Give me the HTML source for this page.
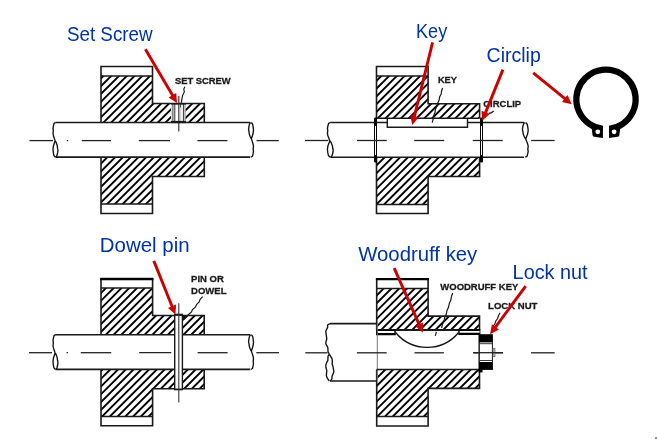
<!DOCTYPE html>
<html><head><meta charset="utf-8"><style>
html,body{margin:0;padding:0;background:#fff;width:657px;height:439px;overflow:hidden}
svg{display:block;will-change:transform}
text{font-family:"Liberation Sans",sans-serif}
</style></head><body>
<svg width="657" height="439" viewBox="0 0 657 439">
<defs><clipPath id="c1"><polygon points="101,76 152.5,76 152.5,103.5 204.3,103.5 204.3,122.5 101,122.5"/></clipPath><clipPath id="c2"><polygon points="101,157.3 204.3,157.3 204.3,176.5 152.5,176.5 152.5,204 101,204"/></clipPath><clipPath id="c3"><polygon points="376.5,76 428.1,76 428.1,103.8 479.6,103.8 479.6,118.2 376.5,118.2"/></clipPath><clipPath id="c4"><polygon points="376.5,157.3 479.6,157.3 479.6,176.5 428.1,176.5 428.1,204.5 376.5,204.5"/></clipPath><clipPath id="c5"><polygon points="101,288 152.6,288 152.6,315.5 204.2,315.5 204.2,334.7 101,334.7"/></clipPath><clipPath id="c6"><polygon points="101,369.4 204.2,369.4 204.2,388.7 152.6,388.7 152.6,416.5 101,416.5"/></clipPath><clipPath id="c7"><polygon points="376.7,288.5 428.1,288.5 428.1,316.1 479.5,316.1 479.5,330.0 376.7,330.0"/></clipPath><clipPath id="c8"><polygon points="376.7,369.5 479.5,369.5 479.5,388.4 428.1,388.4 428.1,416.5 376.7,416.5"/></clipPath></defs>
<rect width="657" height="439" fill="#fff"/>
<path clip-path="url(#c1)" d="M98.00,65.92L207.30,-43.38M98.00,73.68L207.30,-35.62M98.00,81.44L207.30,-27.86M98.00,89.20L207.30,-20.10M98.00,96.96L207.30,-12.34M98.00,104.72L207.30,-4.58M98.00,112.48L207.30,3.18M98.00,120.24L207.30,10.94M98.00,128.00L207.30,18.70M98.00,135.76L207.30,26.46M98.00,143.52L207.30,34.22M98.00,151.28L207.30,41.98M98.00,159.04L207.30,49.74M98.00,166.80L207.30,57.50M98.00,174.56L207.30,65.26M98.00,182.32L207.30,73.02M98.00,190.08L207.30,80.78M98.00,197.84L207.30,88.54M98.00,205.60L207.30,96.30M98.00,213.36L207.30,104.06M98.00,221.12L207.30,111.82M98.00,228.88L207.30,119.58M98.00,236.64L207.30,127.34" stroke="#000" stroke-width="1.9" fill="none"/>
<path clip-path="url(#c2)" d="M98.00,151.08L207.30,41.78M98.00,158.84L207.30,49.54M98.00,166.60L207.30,57.30M98.00,174.36L207.30,65.06M98.00,182.12L207.30,72.82M98.00,189.88L207.30,80.58M98.00,197.64L207.30,88.34M98.00,205.40L207.30,96.10M98.00,213.16L207.30,103.86M98.00,220.92L207.30,111.62M98.00,228.68L207.30,119.38M98.00,236.44L207.30,127.14M98.00,244.20L207.30,134.90M98.00,251.96L207.30,142.66M98.00,259.72L207.30,150.42M98.00,267.48L207.30,158.18M98.00,275.24L207.30,165.94M98.00,283.00L207.30,173.70M98.00,290.76L207.30,181.46M98.00,298.52L207.30,189.22M98.00,306.28L207.30,196.98M98.00,314.04L207.30,204.74M98.00,321.80L207.30,212.50" stroke="#000" stroke-width="1.9" fill="none"/>
<path d="M101,122.5V66.5H152.5V103.5H204.3V122.5" stroke="#1a1a1a" stroke-width="1.6" fill="none" />
<path d="M101,157.3V213.5H152.5V176.5H204.3V157.3" stroke="#1a1a1a" stroke-width="1.6" fill="none" />
<line x1="101" y1="76" x2="152.5" y2="76" stroke="#1a1a1a" stroke-width="1.6"/>
<line x1="101" y1="204" x2="152.5" y2="204" stroke="#1a1a1a" stroke-width="1.6"/>
<rect x="171.0" y="104.2" width="14.6" height="17.6" fill="#fff"/>
<rect x="171.7" y="104" width="2.0" height="18" fill="#8a8a8a"/>
<line x1="174.8" y1="104" x2="174.8" y2="122" stroke="#333" stroke-width="1.0"/>
<line x1="180.7" y1="107" x2="180.7" y2="122" stroke="#d0d0d0" stroke-width="1.2"/>
<line x1="183.4" y1="104" x2="183.4" y2="122" stroke="#333" stroke-width="1.0"/>
<line x1="185.0" y1="104" x2="185.0" y2="122" stroke="#666" stroke-width="0.8"/>
<line x1="180.6" y1="104" x2="180.6" y2="107.5" stroke="#555" stroke-width="1.2"/>
<line x1="178.8" y1="96" x2="178.8" y2="131.5" stroke="#3a3a3a" stroke-width="1.2"/>
<line x1="171" y1="103.8" x2="186" y2="103.8" stroke="#1a1a1a" stroke-width="1.6"/>
<line x1="171" y1="122.0" x2="186" y2="122.0" stroke="#1a1a1a" stroke-width="2.2"/>
<line x1="55.4" y1="122.5" x2="250.2" y2="122.5" stroke="#1a1a1a" stroke-width="1.6"/>
<line x1="55.4" y1="157.1" x2="250.2" y2="157.1" stroke="#1a1a1a" stroke-width="1.6"/>
<path d="M55.55,122.50 L54.02,123.36 L53.42,125.96 L53.00,128.38 L53.34,130.46 L53.00,133.23 L53.42,135.65 L54.27,138.24 L55.12,140.84M55.12,140.84 L54.27,143.26 L53.42,146.03 L53.00,149.14 L53.34,152.60 L53.85,155.37 L55.12,157.10M55.12,140.84 L56.06,142.22 L57.16,145.34 L57.59,148.45 L57.93,150.18 L57.59,152.95 L56.91,155.72 L55.98,157.10" stroke="#111" stroke-width="1.35" fill="none" stroke-linejoin="round"/>
<path d="M250.95,157.10 L252.48,156.23 L253.07,153.64 L253.50,151.22 L253.16,149.14 L253.50,146.37 L253.07,143.95 L252.22,141.36 L251.38,138.76M251.38,138.76 L252.22,136.34 L253.07,133.57 L253.50,130.46 L253.16,127.00 L252.65,124.23 L251.38,122.50M251.38,138.76 L250.44,137.38 L249.34,134.26 L248.91,131.15 L248.57,129.42 L248.91,126.65 L249.59,123.88 L250.53,122.50" stroke="#111" stroke-width="1.35" fill="none" stroke-linejoin="round"/>
<line x1="29.5" y1="140.6" x2="53" y2="140.6" stroke="#222" stroke-width="1.3"/>
<line x1="81.8" y1="140.6" x2="111" y2="140.6" stroke="#222" stroke-width="1.3"/>
<line x1="138.8" y1="140.6" x2="170" y2="140.6" stroke="#222" stroke-width="1.3"/>
<line x1="197.4" y1="140.6" x2="227.5" y2="140.6" stroke="#222" stroke-width="1.3"/>
<line x1="256.5" y1="140.6" x2="278.8" y2="140.6" stroke="#222" stroke-width="1.3"/>
<line x1="66.8" y1="140.6" x2="68.2" y2="140.6" stroke="#222" stroke-width="1.3"/>
<path clip-path="url(#c3)" d="M373.50,68.28L482.60,-40.82M373.50,76.04L482.60,-33.06M373.50,83.80L482.60,-25.30M373.50,91.56L482.60,-17.54M373.50,99.32L482.60,-9.78M373.50,107.08L482.60,-2.02M373.50,114.84L482.60,5.74M373.50,122.60L482.60,13.50M373.50,130.36L482.60,21.26M373.50,138.12L482.60,29.02M373.50,145.88L482.60,36.78M373.50,153.64L482.60,44.54M373.50,161.40L482.60,52.30M373.50,169.16L482.60,60.06M373.50,176.92L482.60,67.82M373.50,184.68L482.60,75.58M373.50,192.44L482.60,83.34M373.50,200.20L482.60,91.10M373.50,207.96L482.60,98.86M373.50,215.72L482.60,106.62M373.50,223.48L482.60,114.38M373.50,231.24L482.60,122.14M373.50,239.00L482.60,129.90" stroke="#000" stroke-width="1.9" fill="none"/>
<path clip-path="url(#c4)" d="M373.50,145.18L482.60,36.08M373.50,152.94L482.60,43.84M373.50,160.70L482.60,51.60M373.50,168.46L482.60,59.36M373.50,176.22L482.60,67.12M373.50,183.98L482.60,74.88M373.50,191.74L482.60,82.64M373.50,199.50L482.60,90.40M373.50,207.26L482.60,98.16M373.50,215.02L482.60,105.92M373.50,222.78L482.60,113.68M373.50,230.54L482.60,121.44M373.50,238.30L482.60,129.20M373.50,246.06L482.60,136.96M373.50,253.82L482.60,144.72M373.50,261.58L482.60,152.48M373.50,269.34L482.60,160.24M373.50,277.10L482.60,168.00M373.50,284.86L482.60,175.76M373.50,292.62L482.60,183.52M373.50,300.38L482.60,191.28M373.50,308.14L482.60,199.04M373.50,315.90L482.60,206.80M373.50,323.66L482.60,214.56" stroke="#000" stroke-width="1.9" fill="none"/>
<path d="M376.5,118.2V66.5H428.1V103.8H479.6V118.2" stroke="#1a1a1a" stroke-width="1.6" fill="none" />
<path d="M376.5,157.3V213.5H428.1V176.5H479.6V157.3" stroke="#1a1a1a" stroke-width="1.6" fill="none" />
<line x1="376.5" y1="76" x2="428.1" y2="76" stroke="#1a1a1a" stroke-width="1.6"/>
<line x1="376.5" y1="204.5" x2="428.1" y2="204.5" stroke="#1a1a1a" stroke-width="1.6"/>
<line x1="376.5" y1="118.2" x2="479.6" y2="118.2" stroke="#1a1a1a" stroke-width="1.6"/>
<path d="M387.3,118.2V127.2H467.5V118.2" stroke="#1a1a1a" stroke-width="1.4" fill="none" />
<line x1="330.3" y1="122.5" x2="387.3" y2="122.5" stroke="#1a1a1a" stroke-width="1.6"/>
<line x1="467.5" y1="122.5" x2="524.0" y2="122.5" stroke="#1a1a1a" stroke-width="1.6"/>
<line x1="330.3" y1="157.2" x2="524.0" y2="157.2" stroke="#1a1a1a" stroke-width="1.6"/>
<path d="M330.40,122.50 L328.60,123.37 L327.90,125.97 L327.40,128.40 L327.80,130.48 L327.40,133.26 L327.90,135.69 L328.90,138.29 L329.90,140.89M329.90,140.89 L328.90,143.32 L327.90,146.10 L327.40,149.22 L327.80,152.69 L328.40,155.46 L329.90,157.20M329.90,140.89 L331.00,142.28 L332.30,145.40 L332.80,148.52 L333.20,150.26 L332.80,153.04 L332.00,155.81 L330.90,157.20" stroke="#111" stroke-width="1.35" fill="none" stroke-linejoin="round"/>
<path d="M525.20,157.20 L527.00,156.33 L527.70,153.73 L528.20,151.30 L527.80,149.22 L528.20,146.44 L527.70,144.01 L526.70,141.41 L525.70,138.81M525.70,138.81 L526.70,136.38 L527.70,133.60 L528.20,130.48 L527.80,127.01 L527.20,124.23 L525.70,122.50M525.70,138.81 L524.60,137.42 L523.30,134.30 L522.80,131.18 L522.40,129.44 L522.80,126.66 L523.60,123.89 L524.70,122.50" stroke="#111" stroke-width="1.35" fill="none" stroke-linejoin="round"/>
<rect x="374.0" y="117.4" width="3" height="45.2" rx="1" fill="#000"/>
<rect x="375.0" y="126" width="1.0" height="29" fill="#fff"/>
<rect x="480.0" y="117.4" width="3" height="45.2" rx="1" fill="#000"/>
<rect x="481.0" y="126" width="1.0" height="29" fill="#fff"/>
<line x1="305" y1="140.5" x2="328.3" y2="140.5" stroke="#222" stroke-width="1.3"/>
<line x1="357" y1="140.5" x2="386.8" y2="140.5" stroke="#222" stroke-width="1.3"/>
<line x1="414.2" y1="140.5" x2="444.2" y2="140.5" stroke="#222" stroke-width="1.3"/>
<line x1="472.8" y1="140.5" x2="502.7" y2="140.5" stroke="#222" stroke-width="1.3"/>
<line x1="531.2" y1="140.5" x2="554.6" y2="140.5" stroke="#222" stroke-width="1.3"/>
<path clip-path="url(#c5)" d="M98.00,280.48L207.20,171.28M98.00,288.24L207.20,179.04M98.00,296.00L207.20,186.80M98.00,303.76L207.20,194.56M98.00,311.52L207.20,202.32M98.00,319.28L207.20,210.08M98.00,327.04L207.20,217.84M98.00,334.80L207.20,225.60M98.00,342.56L207.20,233.36M98.00,350.32L207.20,241.12M98.00,358.08L207.20,248.88M98.00,365.84L207.20,256.64M98.00,373.60L207.20,264.40M98.00,381.36L207.20,272.16M98.00,389.12L207.20,279.92M98.00,396.88L207.20,287.68M98.00,404.64L207.20,295.44M98.00,412.40L207.20,303.20M98.00,420.16L207.20,310.96M98.00,427.92L207.20,318.72M98.00,435.68L207.20,326.48M98.00,443.44L207.20,334.24M98.00,451.20L207.20,342.00" stroke="#000" stroke-width="1.9" fill="none"/>
<path clip-path="url(#c6)" d="M98.00,358.48L207.20,249.28M98.00,366.24L207.20,257.04M98.00,374.00L207.20,264.80M98.00,381.76L207.20,272.56M98.00,389.52L207.20,280.32M98.00,397.28L207.20,288.08M98.00,405.04L207.20,295.84M98.00,412.80L207.20,303.60M98.00,420.56L207.20,311.36M98.00,428.32L207.20,319.12M98.00,436.08L207.20,326.88M98.00,443.84L207.20,334.64M98.00,451.60L207.20,342.40M98.00,459.36L207.20,350.16M98.00,467.12L207.20,357.92M98.00,474.88L207.20,365.68M98.00,482.64L207.20,373.44M98.00,490.40L207.20,381.20M98.00,498.16L207.20,388.96M98.00,505.92L207.20,396.72M98.00,513.68L207.20,404.48M98.00,521.44L207.20,412.24M98.00,529.20L207.20,420.00M98.00,536.96L207.20,427.76" stroke="#000" stroke-width="1.9" fill="none"/>
<path d="M101,334.7V278.6H152.6V315.5H204.2V334.7" stroke="#1a1a1a" stroke-width="1.6" fill="none" />
<path d="M101,369.4V425.7H152.6V388.7H204.2V369.4" stroke="#1a1a1a" stroke-width="1.6" fill="none" />
<line x1="101" y1="288" x2="152.6" y2="288" stroke="#1a1a1a" stroke-width="1.6"/>
<line x1="101" y1="416.5" x2="152.6" y2="416.5" stroke="#1a1a1a" stroke-width="1.6"/>
<line x1="100.2" y1="279.1" x2="153.4" y2="279.1" stroke="#000" stroke-width="2.2"/>
<rect x="174.8" y="315" width="7.6" height="74.5" fill="#fff"/>
<line x1="174.7" y1="315" x2="174.7" y2="389.6" stroke="#1a1a1a" stroke-width="1.4"/>
<line x1="182.4" y1="315" x2="182.4" y2="389.6" stroke="#1a1a1a" stroke-width="1.4"/>
<line x1="174" y1="314.8" x2="183" y2="314.8" stroke="#1a1a1a" stroke-width="2.2"/>
<path d="M182.7,315.5L187.3,315.5L183.5,320.5Z" fill="#111"/>
<line x1="174" y1="389.4" x2="183" y2="389.4" stroke="#1a1a1a" stroke-width="1.8"/>
<line x1="178.8" y1="303.2" x2="178.8" y2="402.4" stroke="#333" stroke-width="1.1"/>
<line x1="55.4" y1="334.7" x2="174.7" y2="334.7" stroke="#1a1a1a" stroke-width="1.6"/>
<line x1="182.4" y1="334.7" x2="250.2" y2="334.7" stroke="#1a1a1a" stroke-width="1.6"/>
<line x1="55.4" y1="369.4" x2="174.7" y2="369.4" stroke="#1a1a1a" stroke-width="1.6"/>
<line x1="182.4" y1="369.4" x2="250.2" y2="369.4" stroke="#1a1a1a" stroke-width="1.6"/>
<path d="M55.55,334.70 L54.02,335.57 L53.42,338.17 L53.00,340.60 L53.34,342.68 L53.00,345.46 L53.42,347.89 L54.27,350.49 L55.12,353.09M55.12,353.09 L54.27,355.52 L53.42,358.30 L53.00,361.42 L53.34,364.89 L53.85,367.66 L55.12,369.40M55.12,353.09 L56.06,354.48 L57.16,357.60 L57.59,360.72 L57.93,362.46 L57.59,365.24 L56.91,368.01 L55.98,369.40" stroke="#111" stroke-width="1.35" fill="none" stroke-linejoin="round"/>
<path d="M250.95,369.40 L252.48,368.53 L253.07,365.93 L253.50,363.50 L253.16,361.42 L253.50,358.64 L253.07,356.21 L252.22,353.61 L251.38,351.01M251.38,351.01 L252.22,348.58 L253.07,345.80 L253.50,342.68 L253.16,339.21 L252.65,336.44 L251.38,334.70M251.38,351.01 L250.44,349.62 L249.34,346.50 L248.91,343.38 L248.57,341.64 L248.91,338.86 L249.59,336.09 L250.53,334.70" stroke="#111" stroke-width="1.35" fill="none" stroke-linejoin="round"/>
<line x1="29" y1="352.7" x2="52" y2="352.7" stroke="#222" stroke-width="1.3"/>
<line x1="80.8" y1="352.7" x2="111.2" y2="352.7" stroke="#222" stroke-width="1.3"/>
<line x1="139.2" y1="352.7" x2="171.3" y2="352.7" stroke="#222" stroke-width="1.3"/>
<line x1="197.6" y1="352.7" x2="227.6" y2="352.7" stroke="#222" stroke-width="1.3"/>
<line x1="256.3" y1="352.7" x2="279" y2="352.7" stroke="#222" stroke-width="1.3"/>
<line x1="66.6" y1="352.7" x2="68" y2="352.7" stroke="#222" stroke-width="1.3"/>
<path clip-path="url(#c7)" d="M373.70,282.98L482.50,174.18M373.70,290.74L482.50,181.94M373.70,298.50L482.50,189.70M373.70,306.26L482.50,197.46M373.70,314.02L482.50,205.22M373.70,321.78L482.50,212.98M373.70,329.54L482.50,220.74M373.70,337.30L482.50,228.50M373.70,345.06L482.50,236.26M373.70,352.82L482.50,244.02M373.70,360.58L482.50,251.78M373.70,368.34L482.50,259.54M373.70,376.10L482.50,267.30M373.70,383.86L482.50,275.06M373.70,391.62L482.50,282.82M373.70,399.38L482.50,290.58M373.70,407.14L482.50,298.34M373.70,414.90L482.50,306.10M373.70,422.66L482.50,313.86M373.70,430.42L482.50,321.62M373.70,438.18L482.50,329.38M373.70,445.94L482.50,337.14" stroke="#000" stroke-width="1.9" fill="none"/>
<path clip-path="url(#c8)" d="M373.70,357.97L482.50,249.17M373.70,365.73L482.50,256.93M373.70,373.49L482.50,264.69M373.70,381.25L482.50,272.45M373.70,389.01L482.50,280.21M373.70,396.77L482.50,287.97M373.70,404.53L482.50,295.73M373.70,412.29L482.50,303.49M373.70,420.05L482.50,311.25M373.70,427.81L482.50,319.01M373.70,435.57L482.50,326.77M373.70,443.33L482.50,334.53M373.70,451.09L482.50,342.29M373.70,458.85L482.50,350.05M373.70,466.61L482.50,357.81M373.70,474.37L482.50,365.57M373.70,482.13L482.50,373.33M373.70,489.89L482.50,381.09M373.70,497.65L482.50,388.85M373.70,505.41L482.50,396.61M373.70,513.17L482.50,404.37M373.70,520.93L482.50,412.13M373.70,528.69L482.50,419.89M373.70,536.45L482.50,427.65" stroke="#000" stroke-width="1.9" fill="none"/>
<path d="M376.7,330.0V278.8H428.1V316.1H479.5V330.0" stroke="#1a1a1a" stroke-width="1.6" fill="none" />
<path d="M376.7,369.5V426H428.1V388.4H479.5V369.5" stroke="#1a1a1a" stroke-width="1.6" fill="none" />
<line x1="376.7" y1="288.5" x2="428.1" y2="288.5" stroke="#1a1a1a" stroke-width="1.6"/>
<line x1="376.7" y1="416.5" x2="428.1" y2="416.5" stroke="#1a1a1a" stroke-width="1.6"/>
<line x1="376.7" y1="330.0" x2="479.5" y2="330.0" stroke="#1a1a1a" stroke-width="1.8"/>
<line x1="375.9" y1="279.1" x2="428.90000000000003" y2="279.1" stroke="#000" stroke-width="2.2"/>
<path d="M376.0,329.4H395.8V335.2H376.0Z M377.9,330.9V333.0H394.4V330.9Z" fill="#000" fill-rule="evenodd"/>
<path d="M458.3,329.3H480.4V334.9H458.3Z M459.6,330.7V332.7H479.6V330.7Z" fill="#000" fill-rule="evenodd"/>
<path d="M395.6,332.5A40.8,40.8 0 0 0 458.6,332.5" stroke="#111" stroke-width="1.3" fill="none" />
<line x1="329.9" y1="323.6" x2="376.7" y2="323.6" stroke="#1a1a1a" stroke-width="1.6"/>
<line x1="329.9" y1="381" x2="376.7" y2="381" stroke="#1a1a1a" stroke-width="1.6"/>
<path d="M329.90,323.60 L327.56,325.04 L327.66,327.19 L326.65,329.34 L325.77,331.35 L326.00,333.36 L326.52,336.80 L326.81,339.10 L326.00,341.39 L325.77,343.40 L326.65,345.41 L327.85,347.56 L327.95,349.72 L328.05,351.87 L329.25,354.02M329.25,354.02 L328.05,356.03 L327.95,358.04 L327.85,360.34 L326.65,362.63 L325.77,365.22 L326.00,367.80 L326.81,370.67 L326.52,373.54 L326.36,375.83 L327.30,378.13 L329.25,381.00M329.25,354.02 L330.68,356.32 L332.07,358.90 L332.37,361.48 L332.14,364.07 L333.02,366.65 L333.54,369.52 L333.83,371.82 L333.02,374.11 L331.95,376.41 L331.98,378.70 L330.55,381.00" stroke="#111" stroke-width="1.35" fill="none" stroke-linejoin="round"/>
<line x1="377.3" y1="323.6" x2="377.3" y2="381" stroke="#777" stroke-width="1.0"/>
<line x1="376.7" y1="369.5" x2="479.5" y2="369.5" stroke="#1a1a1a" stroke-width="1.6"/>
<line x1="305.3" y1="352.8" x2="327.5" y2="352.8" stroke="#222" stroke-width="1.3"/>
<line x1="356.9" y1="352.8" x2="386.7" y2="352.8" stroke="#222" stroke-width="1.3"/>
<line x1="414.5" y1="352.8" x2="443.9" y2="352.8" stroke="#222" stroke-width="1.3"/>
<line x1="473.2" y1="352.8" x2="503" y2="352.8" stroke="#222" stroke-width="1.3"/>
<line x1="531" y1="352.8" x2="554.7" y2="352.8" stroke="#222" stroke-width="1.3"/>
<rect x="478.5" y="334.2" width="14.4" height="35.7" fill="#000"/>
<rect x="479.8" y="342.4" width="12.5" height="19.6" fill="#fff"/>
<line x1="479.8" y1="343.7" x2="492.3" y2="343.7" stroke="#222" stroke-width="0.9"/>
<line x1="479.8" y1="360.5" x2="492.3" y2="360.5" stroke="#222" stroke-width="0.9"/>
<line x1="492.4" y1="342.4" x2="492.4" y2="362" stroke="#222" stroke-width="0.9"/>
<rect x="478.5" y="369" width="4" height="3.4" fill="#000"/>
<rect x="493.0" y="348.2" width="2.0" height="8.6" fill="#bbb" stroke="#555" stroke-width="0.6"/>
<line x1="473.2" y1="352.7" x2="503" y2="352.7" stroke="#222" stroke-width="1.3"/>
<path d="M602.64,128.76A29.65,29.65 0 1 1 609.36,128.76" stroke="#000" stroke-width="6.3" fill="none" />
<path d="M602.9,126.0L594.5,126.5L591.7,128.6L592.6,135.4Q593,136.6 594.5,136.8L602.9,138.1Z" stroke="#000" stroke-width="0" fill="#000" />
<path d="M609.0,126.0L617.4,126.5L620.2,128.6L619.3,135.4Q618.9,136.6 617.4,136.8L609.0,138.1Z" stroke="#000" stroke-width="0" fill="#000" />
<circle cx="597.8" cy="131.8" r="2.4" fill="#fff"/>
<circle cx="614.1" cy="131.8" r="2.4" fill="#fff"/>
<text x="174.9" y="83.6" textLength="55.8" lengthAdjust="spacingAndGlyphs" font-family="Liberation Sans" font-weight="bold" font-size="9.8" fill="#1a1a1a" stroke="#1a1a1a" stroke-width="0.3">SET SCREW</text>
<text x="437.9" y="83.3" textLength="19.1" lengthAdjust="spacingAndGlyphs" font-family="Liberation Sans" font-weight="bold" font-size="9.8" fill="#1a1a1a" stroke="#1a1a1a" stroke-width="0.3">KEY</text>
<text x="483.3" y="106.6" textLength="37.8" lengthAdjust="spacingAndGlyphs" font-family="Liberation Sans" font-weight="bold" font-size="9.8" fill="#1a1a1a" stroke="#1a1a1a" stroke-width="0.3">CIRCLIP</text>
<text x="191.1" y="281.9" textLength="32.7" lengthAdjust="spacingAndGlyphs" font-family="Liberation Sans" font-weight="bold" font-size="9.8" fill="#1a1a1a" stroke="#1a1a1a" stroke-width="0.3">PIN OR</text>
<text x="191.1" y="293.8" textLength="35.4" lengthAdjust="spacingAndGlyphs" font-family="Liberation Sans" font-weight="bold" font-size="9.8" fill="#1a1a1a" stroke="#1a1a1a" stroke-width="0.3">DOWEL</text>
<text x="440.3" y="290.0" textLength="78.0" lengthAdjust="spacingAndGlyphs" font-family="Liberation Sans" font-weight="bold" font-size="9.8" fill="#1a1a1a" stroke="#1a1a1a" stroke-width="0.3">WOODRUFF KEY</text>
<text x="488.1" y="309.0" textLength="49.3" lengthAdjust="spacingAndGlyphs" font-family="Liberation Sans" font-weight="bold" font-size="9.8" fill="#1a1a1a" stroke="#1a1a1a" stroke-width="0.3">LOCK NUT</text>
<path d="M184.9,86.7 L183.8,89.1 L184.3,91.9 L182.7,95.1 L182.1,97.9 L181.6,101.2 L181.3,102.8" stroke="#1a1a1a" stroke-width="1.2" fill="none" />
<path d="M442.6,88 L441.6,91 L441.2,94 L439.6,97 L439.2,100 L437.8,103 L437,106 L435.4,109.5 L435,112.5 L433.6,116 L433.2,119 L432.2,122.7" stroke="#1a1a1a" stroke-width="1.2" fill="none" />
<path d="M493.7,110.8 C492.8,112 491.5,113 488.6,113.6" stroke="#1a1a1a" stroke-width="1.3" fill="none" />
<path d="M202.6,296.7 L200,299.5 L199.2,302 L196.5,304.5 L195.5,307 L192.5,309.5 L191.5,312 L188.5,314.5 L186.5,317 L183.8,319.5" stroke="#1a1a1a" stroke-width="1.2" fill="none" />
<path d="M452.7,293 L451.5,296.5 L450.8,300 L449.3,303.5 L448.6,307 L447,310.5 L446.3,314 L444.7,317.5 L444,321 L442.4,324.5 L441.6,328" stroke="#1a1a1a" stroke-width="1.2" fill="none" />
<path d="M436.4,331.8 L435.3,335.9" stroke="#1a1a1a" stroke-width="1.2" fill="none" />
<path d="M500.1,312.8 L498.5,315.5 L497.6,318.5 L495.8,321 L494.8,324 L492.9,326.4" stroke="#1a1a1a" stroke-width="1.2" fill="none" />
<text x="66.9" y="40.8" textLength="85.7" lengthAdjust="spacingAndGlyphs" font-family="Liberation Sans" font-size="20" fill="#0033a3">Set Screw</text>
<text x="416.0" y="37.8" textLength="31.2" lengthAdjust="spacingAndGlyphs" font-family="Liberation Sans" font-size="20" fill="#0033a3">Key</text>
<text x="486.6" y="62.4" textLength="54.2" lengthAdjust="spacingAndGlyphs" font-family="Liberation Sans" font-size="20" fill="#0033a3">Circlip</text>
<text x="99.8" y="251.9" textLength="89.8" lengthAdjust="spacingAndGlyphs" font-family="Liberation Sans" font-size="20" fill="#0033a3">Dowel pin</text>
<text x="358.2" y="260.8" textLength="119.1" lengthAdjust="spacingAndGlyphs" font-family="Liberation Sans" font-size="20" fill="#0033a3">Woodruff key</text>
<text x="512.6" y="279" textLength="75" lengthAdjust="spacingAndGlyphs" font-family="Liberation Sans" font-size="20" fill="#0033a3">Lock nut</text>
<line x1="145.4" y1="49.3" x2="172.94" y2="96.11" stroke="#cc0000" stroke-width="2.9"/>
<polygon points="177.0,103.0 168.64,97.47 176.23,93.01" fill="#cc0000"/>
<line x1="432.6" y1="42.4" x2="414.21" y2="117.13" stroke="#cc0000" stroke-width="2.9"/>
<polygon points="412.3,124.9 410.18,115.11 418.72,117.21" fill="#cc0000"/>
<line x1="502.9" y1="69.6" x2="485.20" y2="113.38" stroke="#cc0000" stroke-width="2.9"/>
<polygon points="482.2,120.8 481.49,110.81 489.65,114.11" fill="#cc0000"/>
<line x1="533.2" y1="72.8" x2="565.50" y2="99.14" stroke="#cc0000" stroke-width="2.9"/>
<polygon points="571.7,104.2 561.94,101.92 567.51,95.10" fill="#cc0000"/>
<line x1="153.8" y1="260.9" x2="172.41" y2="307.18" stroke="#cc0000" stroke-width="2.9"/>
<polygon points="175.4,314.6 167.96,307.89 176.12,304.61" fill="#cc0000"/>
<line x1="394.2" y1="268.2" x2="419.46" y2="325.19" stroke="#cc0000" stroke-width="2.9"/>
<polygon points="422.7,332.5 415.03,326.05 423.08,322.49" fill="#cc0000"/>
<line x1="525.7" y1="286.1" x2="494.86" y2="327.77" stroke="#cc0000" stroke-width="2.9"/>
<polygon points="490.1,334.2 491.92,324.35 498.99,329.58" fill="#cc0000"/>
<rect x="655" y="437" width="2" height="2" fill="#888"/>
</svg>
</body></html>
